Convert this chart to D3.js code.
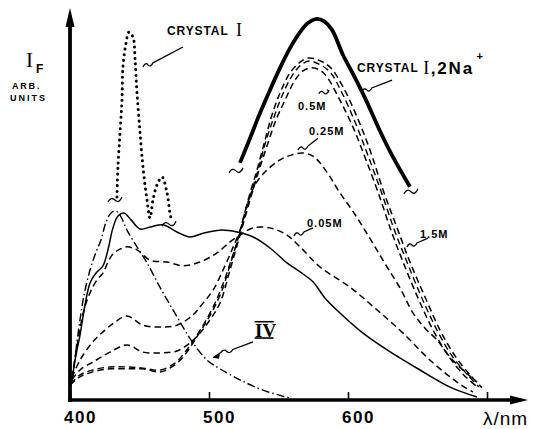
<!DOCTYPE html>
<html><head><meta charset="utf-8">
<script src="https://cdn.jsdelivr.net/npm/d3@7"></script>
<style>
html,body{margin:0;padding:0;background:#fff;}
svg{display:block;}
</style></head><body>
<svg id="chart" width="540" height="429"></svg>
<script>
// ---------- data (wavelength nm, intensity arb. units) ----------
const xTickValues = [400, 500, 600, 700];
const xTickLabels = ["400", "500", "600"];

const crystalI = [[433.8,53.4],[434.5,61.3],[436.0,70.3],[437.4,78.9],[438.1,87.6],[440.3,93.9],[442.4,96.8],[445.3,95.5],[446.8,89.5],[448.2,80.8],[450.4,70.3],[452.5,61.3],[455.4,52.6],[457.6,47.9],[459.7,52.6],[462.6,56.6],[466.2,58.7],[469.8,54.5],[471.9,49.2],[473.4,46.8]];

const crystalI2Na = [[522.3,62.4],[529.5,68.9],[536.7,75.5],[543.9,81.6],[551.1,87.4],[558.3,92.6],[565.5,96.8],[571.2,99.2],[577.7,100.3],[582.7,99.7],[588.5,97.4],[596.4,90.8],[603.6,85.8],[612.2,79.5],[623.0,70.8],[632.4,63.9],[644.6,56.1]];

const noSalt = [[401.4,5.3],[404.3,11.8],[407.2,17.1],[410.8,25.0],[414.4,30.8],[418.7,33.4],[423.7,35.3],[427.3,39.5],[430.9,45.3],[434.5,48.4],[438.8,49.2],[443.9,47.4],[450.4,45.0],[457.6,45.5],[466.9,46.1],[477.0,44.2],[486.3,42.9],[495.7,43.9],[507.9,44.7],[520.1,44.2],[531.7,42.9],[543.9,40.0],[556.1,36.1],[565.5,33.7],[574.8,31.1],[583.5,26.8],[594.2,22.9],[610.8,17.6],[628.1,13.2],[651.8,7.9],[673.4,3.4],[692.8,0.8]];

const compoundIV = [[401.4,4.5],[404.3,13.2],[407.2,21.1],[410.1,27.6],[414.4,34.2],[418.7,38.9],[422.3,42.1],[425.9,46.8],[429.5,49.2],[433.1,49.7],[436.7,48.2],[441.0,44.7],[448.2,40.3],[455.4,36.1],[464.7,29.7],[474.1,23.7],[481.3,19.2],[488.5,15.0],[498.6,10.5],[507.9,8.2],[522.3,5.3],[538.8,2.6],[558.3,0.5]];

const na005 = [[401.4,5.8],[405.8,15.8],[410.1,23.7],[414.4,28.2],[419.4,31.6],[423.7,33.4],[427.3,36.3],[430.9,38.4],[436.0,39.7],[441.0,40.3],[448.2,39.5],[457.6,36.8],[469.8,36.3],[481.3,35.3],[493.5,36.3],[505.8,38.7],[515.1,41.6],[522.3,43.4],[531.7,45.3],[543.9,45.3],[556.1,43.4],[565.5,40.3],[579.9,35.0],[601.4,29.7],[620.9,23.7],[639.6,17.6],[659.0,10.5],[678.4,4.7],[689.9,2.1]];

const na025 = [[401.4,5.8],[407.2,10.5],[416.5,15.3],[425.2,18.4],[432.4,20.5],[441.0,22.1],[452.5,19.7],[464.7,19.2],[477.0,19.7],[488.5,22.4],[495.7,25.5],[502.9,28.9],[510.1,34.2],[516.5,39.5],[522.3,44.7],[527.3,51.3],[533.1,56.6],[540.3,60.0],[551.1,63.2],[559.7,64.5],[567.6,65.0],[574.8,64.2],[579.9,62.4],[587.1,58.7],[594.2,54.5],[602.9,50.0],[610.8,45.5],[619.4,40.3],[628.1,35.0],[637.4,29.5],[646.8,22.9],[655.4,18.9],[664.0,15.8],[673.4,11.3],[682.7,7.9],[692.8,4.7]];

const na05 = [[401.4,5.3],[407.2,7.9],[416.5,10.0],[428.8,12.6],[441.0,14.5],[452.5,12.6],[464.7,12.4],[477.0,12.9],[486.3,15.0],[493.5,17.6],[500.7,21.1],[507.9,25.5],[515.1,34.2],[522.3,43.4],[529.5,52.6],[536.0,60.5],[542.4,67.6],[548.2,73.7],[554.7,78.9],[561.9,84.2],[567.6,86.6],[573.4,87.4],[579.9,86.8],[584.9,85.0],[594.2,78.9],[603.6,71.8],[612.2,63.9],[621.6,54.7],[630.9,44.7],[639.6,36.3],[650.4,26.8],[661.2,18.4],[671.9,11.8],[682.7,6.8],[692.1,3.7]];

const na10 = [[400.7,4.2],[407.2,6.6],[416.5,7.9],[428.8,8.7],[441.0,8.7],[452.5,8.4],[464.7,7.9],[475.5,9.7],[482.7,12.6],[489.9,16.3],[497.1,20.5],[504.3,25.5],[510.8,31.3],[516.5,37.4],[522.3,43.9],[528.8,52.6],[535.3,60.5],[541.0,68.2],[546.8,74.5],[552.5,80.0],[559.7,85.3],[566.2,88.2],[571.9,89.2],[579.1,88.4],[587.1,86.3],[595.7,80.8],[605.0,73.2],[613.7,65.0],[623.7,55.0],[633.1,45.0],[642.4,36.3],[653.2,26.8],[664.0,18.4],[674.8,11.6],[685.6,6.8],[694.2,3.4]];

const na15 = [[400.0,3.9],[407.2,6.1],[416.5,7.4],[428.8,8.2],[441.0,8.2],[452.5,8.2],[464.7,7.4],[474.1,8.9],[481.3,11.3],[488.5,15.0],[495.7,19.2],[502.9,23.7],[509.4,28.9],[515.1,35.5],[521.6,43.4],[528.1,52.6],[534.5,60.5],[540.3,68.4],[545.3,75.0],[551.1,80.8],[558.3,86.1],[565.5,88.9],[571.2,90.0],[578.4,89.5],[587.1,87.6],[596.4,82.4],[606.5,74.5],[615.8,65.8],[625.2,55.3],[635.3,45.3],[644.6,36.3],[655.4,27.1],[666.2,18.4],[677.0,11.6],[687.8,6.6],[696.4,3.2]];

// ---------- layout ----------
const svg = d3.select("#chart");
const x = d3.scaleLinear().domain([400, 700]).range([70, 487]);
const y = d3.scaleLinear().domain([0, 100]).range([400, 20]);
const SANS = "'Liberation Sans', Arial, sans-serif";
const SERIF = "'Liberation Serif', 'DejaVu Serif', serif";

const line = d3.line().x(d => x(d[0])).y(d => y(d[1])).curve(d3.curveCatmullRom.alpha(0.5));

function curve(data, width, dash, cap) {
  svg.append("path").datum(data).attr("d", line)
    .attr("fill", "none").attr("stroke", "#000")
    .attr("stroke-width", width)
    .attr("stroke-dasharray", dash || null)
    .attr("stroke-linecap", cap || "butt")
    .attr("stroke-linejoin", "round");
}

curve(noSalt, 1.5);
curve(compoundIV, 1.4, "8 3 1.5 3");
curve(na005, 1.5, "6.5 4");
curve(na025, 1.5, "6.5 4");
curve(na05, 1.5, "6.5 4");
curve(na10, 1.4, "6.5 4");
curve(na15, 1.5, "6.5 4");
curve(crystalI2Na, 3.8, null, "butt");
curve(crystalI, 3, "0.1 5.6", "round");

// ---------- axes ----------
const xAxis = d3.axisBottom(x).tickValues(xTickValues)
  .tickSizeInner(-8).tickSizeOuter(0).tickPadding(11)
  .tickFormat((d, i) => xTickLabels[i] || "");
const gx = svg.append("g").attr("transform", `translate(0,${y(0)})`).call(xAxis);
gx.select(".domain").remove();
gx.selectAll(".tick line").attr("stroke", "#000").attr("stroke-width", 1.6);
gx.selectAll(".tick text").attr("font-family", SANS).attr("font-size", 17)
  .attr("font-weight", "bold").attr("letter-spacing", 1.5).attr("dx", 10).attr("fill", "#000");

// axis lines with arrows
svg.append("line").attr("x1", x(400) - 2).attr("x2", 515).attr("y1", y(0)).attr("y2", y(0))
  .attr("stroke", "#000").attr("stroke-width", 3.5);
svg.append("path").attr("d", `M510,${y(0) - 4.5} L528,${y(0)} L510,${y(0) + 4.5} Z`).attr("fill", "#000");
svg.append("line").attr("x1", x(400)).attr("x2", x(400)).attr("y1", y(0) + 2).attr("y2", 22)
  .attr("stroke", "#000").attr("stroke-width", 3.8);
svg.append("path").attr("d", `M${x(400) - 4.5},27 L${x(400)},8 L${x(400) + 4.5},27 Z`).attr("fill", "#000");

// axis titles
svg.append("text").attr("x", 26).attr("y", 67).attr("font-family", SERIF).attr("font-size", 21).text("I");
svg.append("text").attr("x", 36).attr("y", 73).attr("font-family", SANS).attr("font-weight", "bold").attr("font-size", 12).text("F");
svg.append("text").attr("x", 12).attr("y", 89).attr("font-family", SANS).attr("font-weight", "bold").attr("font-size", 9).attr("letter-spacing", 1.8).text("ARB.");
svg.append("text").attr("x", 10).attr("y", 101).attr("font-family", SANS).attr("font-weight", "bold").attr("font-size", 9).attr("letter-spacing", 2).text("UNITS");
svg.append("text").attr("x", 483).attr("y", 425).attr("font-family", SANS).attr("font-size", 19).attr("letter-spacing", 1).text("λ/nm");

// ---------- annotations ----------
function label(t, nm, I, size, weight, family, ls) {
  return svg.append("text").attr("x", x(nm)).attr("y", y(I))
    .attr("font-family", family || SANS).attr("font-size", size)
    .attr("font-weight", weight || "bold").attr("letter-spacing", ls || 0).text(t);
}
function pointer(nm0, I0, nm1, I1) {
  const x0 = x(nm0), y0 = y(I0);
  svg.append("path")
    .attr("d", `M${x0 - 5},${y0 + 2} q2.5,-5 5,-2 t5,-2 L${x(nm1)},${y(I1)}`)
    .attr("fill", "none").attr("stroke", "#000").attr("stroke-width", 1.3);
}
function breakMark(pt, dx, dy) {
  const cx = x(pt[0]) + dx, cy = y(pt[1]) + dy;
  svg.append("path")
    .attr("d", `M${cx - 8},${cy + 3} q3,-6 7,-2 t7,-3`)
    .attr("fill", "none").attr("stroke", "#000").attr("stroke-width", 1.3);
}

label("CRYSTAL", 469.8, 96.1, 12, "bold", SANS, 0.9);
label("I", 519.5, 95.8, 18, "normal", SERIF);
pointer(456.1, 88.2, 481.3, 92.9);

label("CRYSTAL", 606.5, 86.3, 12, "bold", SANS, 0.9);
label("I", 654.2, 85.8, 18, "normal", SERIF);
label(",2Na", 659.6, 85.8, 17, "bold", SANS, 1.8);
label("+", 692.5, 89.6, 11, "bold", SANS);
pointer(613.5, 81.6, 631.7, 84.2);

label("0.5M", 564.0, 76.3, 11, "bold", SANS, 1);
svg.append("path").attr("d", `M${x(579)},${y(80.6)} q2.5,-4 5,-1 t5,-2 l-2,-1 m2,1 l-1,2`)
  .attr("fill", "none").attr("stroke", "#000").attr("stroke-width", 1.3);

label("0.25M", 571.9, 69.7, 11, "bold", SANS, 1);
pointer(567.6, 66.3, 578.4, 68.9);

label("0.05M", 570.5, 45.5, 11, "bold", SANS, 1);
pointer(564.7, 43.7, 574.8, 45.3);

label("1.5M", 651.8, 42.6, 11, "bold", SANS, 1);
pointer(646.0, 40.8, 657.6, 42.6);

// IV label with bars
label("IV", 533.1, 16.6, 19, "bold", SERIF);
svg.append("line").attr("x1", x(532.8)).attr("x2", x(546.5)).attr("y1", y(20.6)).attr("y2", y(20.6)).attr("stroke", "#000").attr("stroke-width", 1.6);
svg.append("line").attr("x1", x(532.8)).attr("x2", x(546.5)).attr("y1", y(16.3)).attr("y2", y(16.3)).attr("stroke", "#000").attr("stroke-width", 1.6);
// IV arrow
svg.append("path")
  .attr("d", `M${x(502.9)},${y(11.1)} L${x(508.5)},${y(12.5)} q3,-4 6,-1 t6,-2 L${x(531.7)},${y(15.3)}`)
  .attr("fill", "none").attr("stroke", "#000").attr("stroke-width", 1.3);
svg.append("path")
  .attr("d", `M${x(502.9)},${y(11.1)} l7,-5 l-1,6 Z`).attr("fill", "#000");

// break marks at ends of the interrupted curves
breakMark(crystalI[0], -1, 2);
breakMark(crystalI[crystalI.length - 1], -2, 1);
breakMark(crystalI2Na[0], -3, 7);
breakMark(crystalI2Na[crystalI2Na.length - 1], 2, 4);
</script>
</body></html>
